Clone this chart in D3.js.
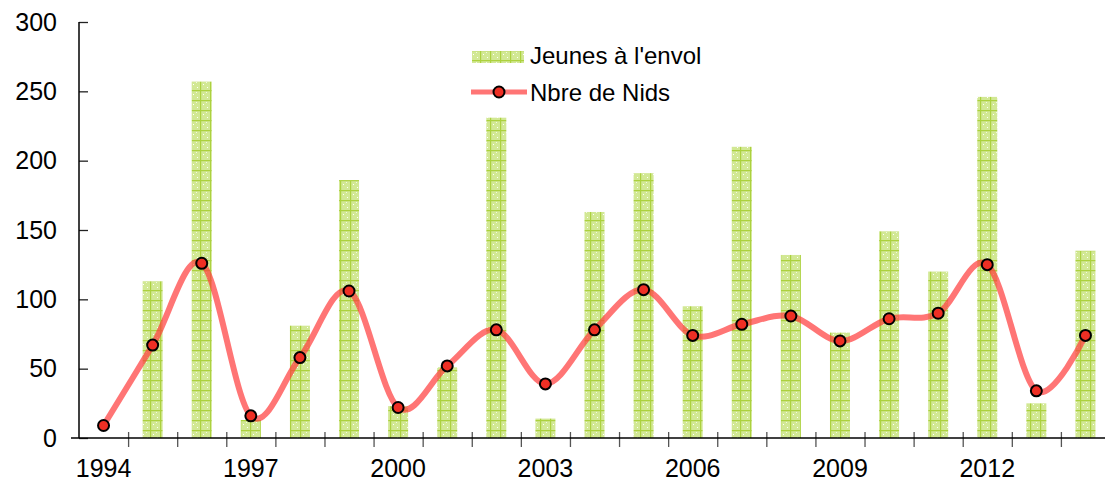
<!DOCTYPE html>
<html>
<head>
<meta charset="utf-8">
<script src="https://cdn.jsdelivr.net/npm/d3@7"></script>
<style>
  body { margin: 0; background: #fff; }
  svg { display: block; font-family: "Liberation Sans", Arial, sans-serif; }
</style>
</head>
<body>
<div id="chart"></div>
<script>
/* Data */
var years = d3.range(1994, 2015);
var jeunes = [0, 113, 257, 13, 81, 186, 23, 51, 231, 14, 163, 191, 95, 210, 132, 76, 149, 120, 246, 25, 135];
var nids = [9, 67, 126, 16, 58, 106, 22, 52, 78, 39, 78, 107, 74, 82, 88, 70, 86, 90, 125, 34, 74];
var yTicks = [0, 50, 100, 150, 200, 250, 300];
var xLabels = [1994, 1997, 2000, 2003, 2006, 2009, 2012];

var W = 1105, H = 482;
var plotLeft = 79, plotRight = 1110, plotTop = 22, plotBottom = 438;

var svg = d3.select("#chart").append("svg")
  .attr("width", W)
  .attr("height", H);

/* patterned green fill for the bars */
var defs = svg.append("defs");
var pat = defs.append("pattern")
  .attr("id", "barPat")
  .attr("patternUnits", "userSpaceOnUse")
  .attr("width", 10)
  .attr("height", 10);
pat.append("rect").attr("width", 10).attr("height", 10).attr("fill", "#d2e894");
pat.append("rect").attr("x", 0).attr("y", 0).attr("width", 10).attr("height", 1.2).attr("fill", "#acd13e");
pat.append("rect").attr("x", 0).attr("y", 0).attr("width", 1.2).attr("height", 10).attr("fill", "#acd13e");
pat.append("rect").attr("x", 3).attr("y", 4).attr("width", 1).attr("height", 1).attr("fill", "#fff");
pat.append("rect").attr("x", 7).attr("y", 7).attr("width", 1).attr("height", 1).attr("fill", "#fff");
pat.append("rect").attr("x", 6).attr("y", 2).attr("width", 1).attr("height", 1).attr("fill", "#f4f9e4");

/* scales */
var x = d3.scaleBand().domain(years).range([plotLeft, plotRight]).padding(0);
var xb = d3.scaleLinear().domain([0, years.length]).range([plotLeft, plotRight]);
var y = d3.scaleLinear().domain([0, 300]).range([plotBottom, plotTop]);
var barW = 20;

/* bars */
svg.selectAll(".bar")
  .data(years)
  .enter()
  .append("rect")
  .attr("class", "bar")
  .attr("x", function (d) { return x(d) + x.bandwidth() / 2 - barW / 2; })
  .attr("y", function (d, i) { return y(jeunes[i]); })
  .attr("width", barW)
  .attr("height", function (d, i) { return plotBottom - y(jeunes[i]); })
  .style("fill", "url(#barPat)");

/* x axis: tick marks on category boundaries */
var xAxis = svg.append("g")
  .attr("transform", "translate(0," + plotBottom + ")")
  .call(d3.axisBottom(xb).tickValues(d3.range(1, years.length)).tickSize(9).tickFormat(""));
xAxis.select(".domain").remove();
xAxis.selectAll(".tick line")
  .attr("y1", -6)
  .attr("stroke", "#555")
  .attr("stroke-width", 1.3);

/* x labels */
var xLab = svg.append("g")
  .attr("transform", "translate(0," + plotBottom + ")")
  .call(d3.axisBottom(x).tickValues(xLabels).tickSize(0).tickPadding(21));
xLab.attr("font-size", null).attr("font-family", null);
xLab.select(".domain").remove();
xLab.selectAll("text")
  .style("font-size", "25px")
  .style("fill", "#000");

/* y axis */
var yAxis = svg.append("g")
  .attr("transform", "translate(" + plotLeft + ",0)")
  .call(d3.axisLeft(y).tickValues(yTicks).tickSize(8).tickPadding(14));
yAxis.attr("font-size", null).attr("font-family", null);
yAxis.select(".domain").remove();
yAxis.selectAll(".tick line")
  .attr("x2", 9)
  .attr("stroke", "#222")
  .attr("stroke-width", 1.3);
yAxis.selectAll("text")
  .style("font-size", "25px")
  .style("fill", "#000");

/* axis lines */
svg.append("line")
  .attr("x1", plotLeft).attr("x2", plotLeft)
  .attr("y1", plotTop).attr("y2", plotBottom)
  .attr("stroke", "#000").attr("stroke-width", 1.5);
svg.append("line")
  .attr("x1", plotLeft - 8).attr("x2", W)
  .attr("y1", plotBottom).attr("y2", plotBottom)
  .attr("stroke", "#000").attr("stroke-width", 1.5);

/* smoothed line */
var line = d3.line()
  .x(function (d, i) { return x(years[i]) + x.bandwidth() / 2; })
  .y(function (d) { return y(d); })
  .curve(d3.curveCardinal.tension(0));

svg.append("path")
  .datum(nids)
  .attr("d", line)
  .attr("fill", "none")
  .attr("stroke", "#ff3a3a")
  .attr("stroke-opacity", 0.7)
  .attr("stroke-width", 6);

svg.selectAll(".pt")
  .data(nids)
  .enter()
  .append("circle")
  .attr("class", "pt")
  .attr("cx", function (d, i) { return x(years[i]) + x.bandwidth() / 2; })
  .attr("cy", function (d) { return y(d); })
  .attr("r", 5.5)
  .attr("fill", "#ee2f24")
  .attr("stroke", "#000")
  .attr("stroke-width", 2);

/* legend */
var lg = svg.append("g").attr("class", "legend");
lg.append("rect")
  .attr("x", 472).attr("y", 51)
  .attr("width", 52).attr("height", 12)
  .style("fill", "url(#barPat)");
lg.append("text")
  .attr("x", 530).attr("y", 64)
  .style("font-size", "24px")
  .text("Jeunes à l'envol");
lg.append("line")
  .attr("x1", 471).attr("x2", 527)
  .attr("y1", 92).attr("y2", 92)
  .attr("stroke", "#ff3a3a")
  .attr("stroke-opacity", 0.7)
  .attr("stroke-width", 5);
lg.append("circle")
  .attr("cx", 499).attr("cy", 92).attr("r", 5.5)
  .attr("fill", "#ee2f24")
  .attr("stroke", "#000")
  .attr("stroke-width", 2);
lg.append("text")
  .attr("x", 530).attr("y", 101)
  .style("font-size", "24px")
  .text("Nbre de Nids");
</script>
</body>
</html>
